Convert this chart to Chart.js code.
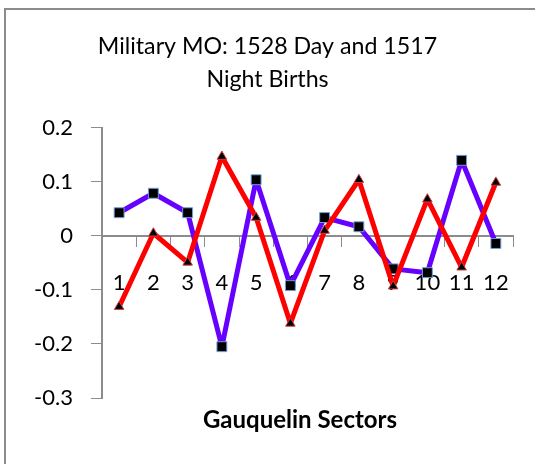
<!DOCTYPE html>
<html>
<head>
<meta charset="utf-8">
<script src="https://cdn.jsdelivr.net/npm/chart.js@4"></script>
<style>
  html, body { margin: 0; padding: 0; background: #fff; }
  #wrap { width: 535px; height: 464px; position: relative; }
</style>
</head>
<body>
<div id="wrap"><canvas id="c" width="535" height="464"></canvas></div>
<script>
const titleLines = ['Military MO: 1528 Day and 1517', 'Night Births'];
const xAxisTitle = 'Gauquelin Sectors';
const sectors = ['1','2','3','4','5','6','7','8','9','10','11','12'];
const daySeries = [0.043, 0.079, 0.043, -0.205, 0.104, -0.092, 0.034, 0.017, -0.061, -0.068, 0.140, -0.014];
const nightSeries = [-0.131, 0.005, -0.049, 0.147, 0.034, -0.162, 0.010, 0.104, -0.093, 0.068, -0.058, 0.099];
const yMin = -0.3, yMax = 0.2, yStep = 0.1;

const FONT = 'Lato, "Open Sans", sans-serif';

const framePlugin = {
  id: 'frame',
  beforeDraw(chart) {
    const ctx = chart.ctx;
    ctx.save();
    ctx.fillStyle = '#fff';
    ctx.fillRect(0, 0, chart.width, chart.height);
    ctx.strokeStyle = '#8c8c8c';
    ctx.lineWidth = 2;
    ctx.strokeRect(5, 9, 800, 800);
    ctx.restore();
  },
  afterDraw(chart) {
    const ctx = chart.ctx;
    ctx.save();
    ctx.font = 'bold 24px ' + FONT;
    ctx.fillStyle = '#000';
    ctx.textAlign = 'center';
    ctx.textBaseline = 'middle';
    ctx.fillText(xAxisTitle, 300, 420);
    ctx.restore();
  }
};

new Chart(document.getElementById('c'), {
  type: 'line',
  data: {
    labels: sectors,
    datasets: [
      {
        label: 'Night',
        data: nightSeries,
        borderColor: '#ff0000',
        borderWidth: 5,
        borderJoinStyle: 'round',
        borderCapStyle: 'round',
        pointStyle: 'triangle',
        pointRadius: 5.5,
        pointBackgroundColor: '#000',
        pointBorderColor: '#d04040',
        pointBorderWidth: 1,
        tension: 0,
        order: 0
      },
      {
        label: 'Day',
        data: daySeries,
        borderColor: '#6600ff',
        borderWidth: 5,
        borderJoinStyle: 'round',
        borderCapStyle: 'round',
        pointStyle: 'rect',
        pointRadius: 7,
        pointBackgroundColor: '#000',
        pointBorderColor: '#6f9fd8',
        pointBorderWidth: 1,
        tension: 0,
        order: 1
      }
    ]
  },
  plugins: [framePlugin],
  options: {
    responsive: false,
    animation: false,
    devicePixelRatio: 1,
    layout: { padding: { left: 22, right: 22, top: 0, bottom: 66 } },
    plugins: {
      legend: { display: false },
      tooltip: { enabled: false },
      title: {
        display: true,
        text: titleLines,
        color: '#000',
        font: { family: FONT, size: 23.2, weight: 'normal', lineHeight: 1.42 },
        padding: { top: 30, bottom: 32 }
      }
    },
    scales: {
      x: {
        type: 'category',
        position: { y: 0 },
        offset: true,
        grid: {
          offset: true,
          drawOnChartArea: false,
          drawTicks: true,
          tickLength: 10,
          color: '#8c8c8c'
        },
        border: { color: '#8c8c8c', width: 2 },
        ticks: {
          color: '#000',
          font: { family: FONT, size: 22 },
          padding: 24,
          maxRotation: 0,
          autoSkip: false
        }
      },
      y: {
        min: yMin,
        max: yMax,
        afterFit(scale) { scale.width = 80; },
        grid: {
          drawOnChartArea: false,
          drawTicks: true,
          tickLength: 11,
          color: '#8c8c8c'
        },
        border: { color: '#8c8c8c', width: 2 },
        ticks: {
          stepSize: yStep,
          color: '#000',
          font: { family: FONT, size: 22 },
          padding: 18
        }
      }
    }
  }
});
</script>
</body>
</html>
